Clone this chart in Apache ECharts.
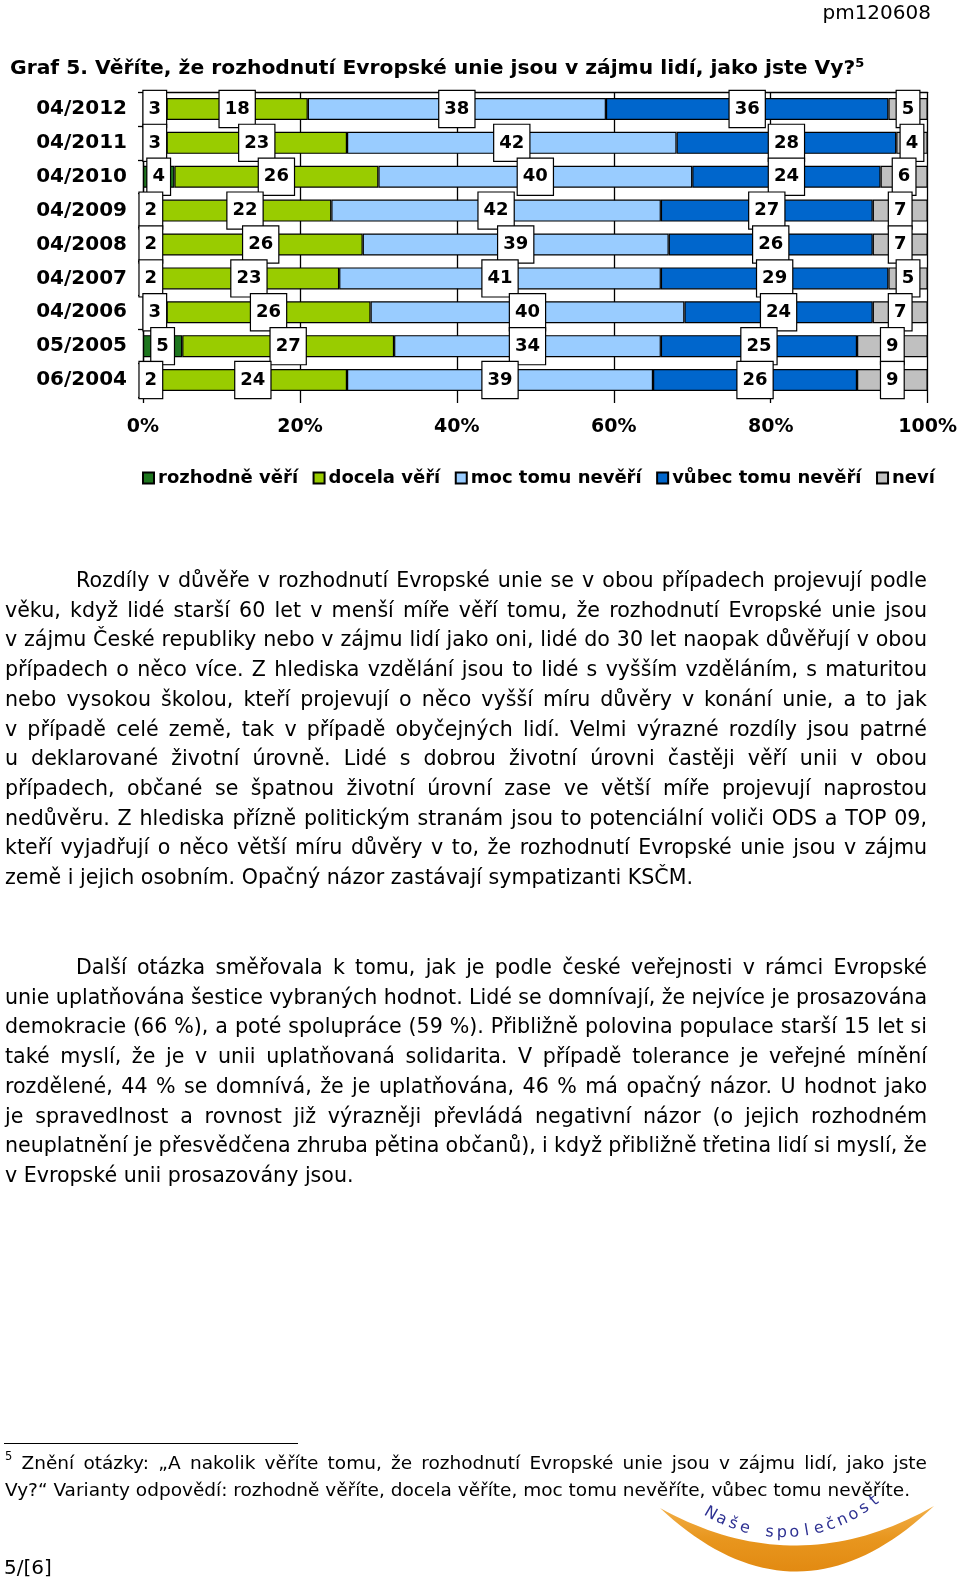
<!DOCTYPE html>
<html><head><meta charset="utf-8">
<script src="https://cdn.jsdelivr.net/npm/echarts@6.0.0/dist/echarts.min.js"></script>
<style>
html,body{margin:0;padding:0;background:#fff;}
#page{position:relative;width:960px;height:1578px;overflow:hidden;font-family:"DejaVu Sans",Verdana,sans-serif;color:#000;}
#chart{position:absolute;left:0;top:0;width:960px;height:1578px;}
.ln{position:absolute;white-space:pre;line-height:24px;color:#000;}
sup{font-size:62%;line-height:0;vertical-align:0.75em;}
</style></head>
<body><div id="page"><div id="chart"></div></div>
<script>
// ---- data ----
const categories = ['04/2012','04/2011','04/2010','04/2009','04/2008','04/2007','04/2006','05/2005','06/2004'];
const seriesNames = ['rozhodně věří','docela věří','moc tomu nevěří','vůbec tomu nevěří','neví'];
const rozhodneVeri = [3,3,4,2,2,2,3,5,2];
const docelaVeri  = [18,23,26,22,26,23,26,27,24];
const mocNeveri   = [38,42,40,42,39,41,40,34,39];
const vubecNeveri = [36,28,24,27,26,29,24,25,26];
const nevi        = [5,4,6,7,7,5,7,9,9];
const xTickValues = [0,20,40,60,80,100];
const seriesColors = ['#1E761E','#99CC00','#99CCFF','#0066CC','#C0C0C0'];

const FONT = 'DejaVu Sans';
const values = [rozhodneVeri, docelaVeri, mocNeveri, vubecNeveri, nevi];

// ---- page text (HTML) ----
const page = document.getElementById('page');
function addLine(html, left, cyLine, size, justifyTo, bold){
  const d = document.createElement('div');
  d.className='ln';
  d.style.left = left+'px';
  d.style.top = (cyLine-12)+'px';
  d.style.fontSize = size+'px';
  if(bold) d.style.fontWeight='bold';
  d.innerHTML = html;
  page.appendChild(d);
  if(justifyTo){
    const w = d.getBoundingClientRect().width;
    const n = (d.textContent.match(/ /g)||[]).length;
    if(n>0) d.style.wordSpacing = ((justifyTo-left-w)/n)+'px';
  }
  return d;
}
const para1 = [
 'Rozdíly v důvěře v rozhodnutí Evropské unie se v obou případech projevují podle',
 'věku, když lidé starší 60 let v menší míře věří tomu, že rozhodnutí Evropské unie jsou',
 'v zájmu České republiky nebo v zájmu lidí jako oni, lidé do 30 let naopak důvěřují v obou',
 'případech o něco více. Z hlediska vzdělání jsou to lidé s vyšším vzděláním, s maturitou',
 'nebo vysokou školou, kteří projevují o něco vyšší míru důvěry v konání unie, a to jak',
 'v případě celé země, tak v případě obyčejných lidí. Velmi výrazné rozdíly jsou patrné',
 'u deklarované životní úrovně. Lidé s dobrou životní úrovni častěji věří unii v obou',
 'případech, občané se špatnou životní úrovní zase ve větší míře projevují naprostou',
 'nedůvěru. Z hlediska přízně politickým stranám jsou to potenciální voliči ODS a TOP 09,',
 'kteří vyjadřují o něco větší míru důvěry v to, že rozhodnutí Evropské unie jsou v zájmu',
 'země i jejich osobním. Opačný názor zastávají sympatizanti KSČM.'
];
const para2 = [
 'Další otázka směřovala k tomu, jak je podle české veřejnosti v rámci Evropské',
 'unie uplatňována šestice vybraných hodnot. Lidé se domnívají, že nejvíce je prosazována',
 'demokracie (66 %), a poté spolupráce (59 %). Přibližně polovina populace starší 15 let si',
 'také myslí, že je v unii uplatňovaná solidarita. V případě tolerance je veřejné mínění',
 'rozdělené, 44 % se domnívá, že je uplatňována, 46 % má opačný názor. U hodnot jako',
 'je spravedlnost a rovnost již výrazněji převládá negativní názor (o jejich rozhodném',
 'neuplatnění je přesvědčena zhruba pětina občanů), i když přibližně třetina lidí si myslí, že',
 'v Evropské unii prosazovány jsou.'
];
const BODY = 20.6, LS = 29.7;
function addPara(lines, y0){
  lines.forEach((t,i)=>{
    const last = i===lines.length-1;
    addLine(t, i===0?76:5, y0+i*LS, BODY, last?0:927);
  });
}
addPara(para1, 580);
addPara(para2, 967);

const pm = addLine('pm120608', 0, 12, 20, 0);
pm.style.left = (931 - pm.getBoundingClientRect().width) + 'px';
const sep = document.createElement('div');
sep.style.cssText='position:absolute;left:4px;top:1443px;width:294px;height:1px;background:#000;';
page.appendChild(sep);
addLine('<sup>5</sup> Znění otázky: „A nakolik věříte tomu, že rozhodnutí Evropské unie jsou v zájmu lidí, jako jste', 5, 1463, 18.5, 927);
addLine('Vy?“ Varianty odpovědí: rozhodně věříte, docela věříte, moc tomu nevěříte, vůbec tomu nevěříte.', 5, 1490, 18.5, 0);
addLine('5/[6]', 4, 1567, 20, 0);

// ---- chart ----
const chart = echarts.init(document.getElementById('chart'), null, {renderer:'canvas'});

// logo (decorative): swoosh outline sampled from two quadratic curves
function quad(p0,p1,p2,n){const pts=[];for(let k=0;k<=n;k++){const t=k/n,u=1-t;pts.push([u*u*p0[0]+2*u*t*p1[0]+t*t*p2[0],u*u*p0[1]+2*u*t*p1[1]+t*t*p2[1]]);}return pts;}
const swoosh = quad([660,1508],[797,1636],[934,1506],40).concat(quad([934,1506],[797,1584],[660,1508],40));
const logoText = ['N','a','š','e',' ','s','p','o','l','e','č','n','o','s','t'];
const cx = 783, cy = 1388, R = 145;
const a0 = -30*Math.PI/180, a1 = 39*Math.PI/180;
const logoGraphics = logoText.map((ch,i)=>{
  const a = a0 + (a1-a0)*i/(logoText.length-1);
  return {type:'text', x: cx + R*Math.sin(a), y: cy + R*Math.cos(a), rotation: a,
    style:{text:ch, fill:'#2E3192', font:'16px "DejaVu Sans"', textAlign:'center', textVerticalAlign:'middle'}};
});

chart.setOption({
  animation:false,
  textStyle:{fontFamily:FONT},
  title:{
    left:5, top:52,
    text:'{t|Graf 5. Věříte, že rozhodnutí Evropské unie jsou v zájmu lidí, jako jste Vy?}{s|5}',
    textStyle:{rich:{
      t:{fontFamily:FONT,fontWeight:'bold',fontSize:20.3,color:'#000',lineHeight:24},
      s:{fontFamily:FONT,fontWeight:'bold',fontSize:13,color:'#000',verticalAlign:'top',lineHeight:13}
    }}
  },
  legend:{
    left:137, top:464, icon:'rect', itemWidth:11, itemHeight:11, itemGap:14.5,
    textStyle:{fontFamily:FONT,fontWeight:'bold',fontSize:18,color:'#000',padding:[0,0,0,-1]},
    data:seriesNames
  },
  grid:{left:143, top:92, width:785, height:305, containLabel:false},
  xAxis:[{
    type:'value', min:0, max:100, interval:20, position:'bottom',
    axisLine:{show:false},
    axisTick:{show:true, length:6, lineStyle:{color:'#000', width:1.3}},
    axisLabel:{formatter:v=>xTickValues.includes(v)?v+'%':'', color:'#000', fontWeight:'bold', fontSize:19, fontFamily:FONT, margin:21},
    splitLine:{show:true, lineStyle:{color:'#000', width:1.3}}
  },{
    type:'value', min:0, max:100, interval:20, position:'top',
    axisLine:{show:true, lineStyle:{color:'#000', width:1.3}},
    axisTick:{show:false}, axisLabel:{show:false}, splitLine:{show:false}
  }],
  yAxis:{
    type:'category', data:categories, inverse:true,
    axisLine:{show:true, lineStyle:{color:'#000', width:1.3}},
    axisTick:{show:true, length:5, lineStyle:{color:'#000', width:1.3}},
    axisLabel:{color:'#000', fontWeight:'bold', fontSize:20, fontFamily:FONT, margin:16}
  },
  series: seriesNames.map((name,i)=>({
    name, type:'bar', stack:'total', barWidth:22, xAxisIndex:0,
    data: values[i],
    itemStyle:{color:seriesColors[i], borderColor:'#000', borderWidth:1.2},
    label:{show:true, position:'inside', color:'#000', fontWeight:'bold', fontSize:18, fontFamily:FONT,
      backgroundColor:'#fff', borderColor:'#000', borderWidth:1.2, padding:[8,5,8,5], lineHeight:20}
  })),
  graphic:[
    {type:'polygon', shape:{points:swoosh},
     style:{fill:{type:'linear',x:0,y:0,x2:0,y2:1,colorStops:[{offset:0,color:'#F2B04A'},{offset:0.5,color:'#E8961E'},{offset:1,color:'#E28A12'}]}}},
    ...logoGraphics
  ]
});
</script>
</body></html>
